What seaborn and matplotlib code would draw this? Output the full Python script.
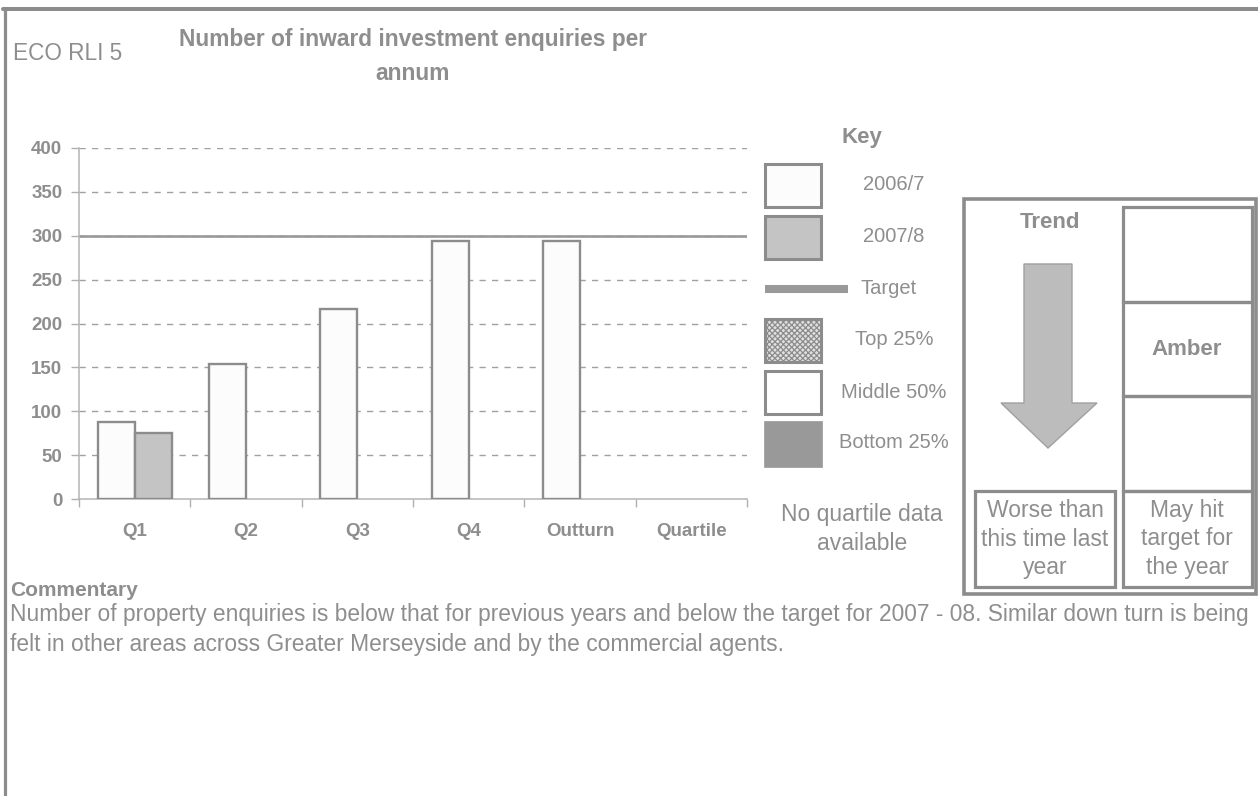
import numpy as np
import pandas as pd
import matplotlib
matplotlib.use("Agg")
import matplotlib.pyplot as plt
from matplotlib.patches import Rectangle, Polygon
from matplotlib.lines import Line2D
import seaborn as sns

# ---- data -------------------------------------------------------------
periods = ["Q1", "Q2", "Q3", "Q4", "Outturn", "Quartile"]
years = ["2006/7", "2007/8"]
enquiries_2006_7 = [88, 154, 217, 294, 294, None]
enquiries_2007_8 = [75, None, None, None, None, None]
target = 300
y_ticks = [0, 50, 100, 150, 200, 250, 300, 350, 400]

key_labels = ["2006/7", "2007/8", "Target", "Top 25%", "Middle 50%", "Bottom 25%"]
code_label = "ECO RLI 5"
title_lines = ["Number of inward investment enquiries per", "annum"]
quartile_note = "No quartile data\navailable"
trend_title = "Trend"
trend_text = "Worse than\nthis time last\nyear"
rag_status = "Amber"
rag_text = "May hit\ntarget for\nthe year"
commentary_head = "Commentary"
commentary_lines = [
    "Number of property enquiries is below that for previous years and below the "
    "target for 2007 - 08. Similar down turn is being",
    "felt in other areas across Greater Merseyside and by the commercial agents.",
]

rows = []
for p, a, b in zip(periods, enquiries_2006_7, enquiries_2007_8):
    if a is not None:
        rows.append({"period": p, "year": years[0], "enquiries": a})
    if b is not None:
        rows.append({"period": p, "year": years[1], "enquiries": b})
df = pd.DataFrame(rows)

# ---- style ------------------------------------------------------------
sns.set_style("white")
plt.rcParams["font.family"] = ["Liberation Sans", "DejaVu Sans"]
plt.rcParams["hatch.linewidth"] = 0.9

GREY = "#8c8c8c"
TXT = "#8e8e8e"
W, H = 1258, 796
fig = plt.figure(figsize=(W / 100, H / 100), dpi=100)
fig.patch.set_facecolor("white")


def fx(x):
    return x / W


def fy(y):
    return 1 - y / H


def box(x0, y0, x1, y1, **kw):
    r = Rectangle((fx(x0), fy(y1)), (x1 - x0) / W, (y1 - y0) / H,
                  transform=fig.transFigure, **kw)
    fig.add_artist(r)
    return r


def label(x, y, s, **kw):
    kw.setdefault("color", TXT)
    kw.setdefault("va", "center")
    return fig.text(fx(x), fy(y), s, **kw)


# ---- bar chart ----------------------------------------------------------
ax = fig.add_axes([fx(79), fy(499), (747 - 79) / W, (499 - 148) / H])
sns.barplot(data=df, x="period", y="enquiries", hue="year",
            order=periods, hue_order=years,
            palette={years[0]: "#fcfcfc", years[1]: "#c4c4c4"},
            width=2 / 3, edgecolor=GREY, linewidth=1.7,
            errorbar=None, legend=False, ax=ax, zorder=3)

ax.set_xlim(-0.5, len(periods) - 0.5)
ax.set_ylim(0, 400)
ax.set_xlabel("")
ax.set_ylabel("")

ax.set_yticks(y_ticks)
ax.set_yticklabels([str(v) for v in y_ticks], fontweight="bold",
                   fontsize=13.5, color=TXT)
ax.tick_params(axis="y", length=6, width=1, color="#b0b0b0", pad=6,
               left=True)

ax.set_xticks(np.arange(-0.5, len(periods), 1))
ax.set_xticklabels([])
ax.set_xticks(np.arange(len(periods)), minor=True)
ax.set_xticklabels(periods, minor=True, fontweight="bold", fontsize=13.5,
                   color=TXT)
ax.tick_params(axis="x", which="major", length=6, width=1, color="#b0b0b0",
               bottom=True)
ax.tick_params(axis="x", which="minor", length=0, pad=17)

for v in y_ticks[1:]:
    ax.axhline(v, color="#a0a0a0", lw=1, ls=(0, (4.5, 4.5)), zorder=1)
ax.axhline(target, color="#999999", lw=1.9, zorder=2)

for s in ["top", "right"]:
    ax.spines[s].set_visible(False)
for s in ["left", "bottom"]:
    ax.spines[s].set_color("#b4b4b4")
    ax.spines[s].set_linewidth(1.1)

# ---- page frame and headings ------------------------------------------
fig.add_artist(Line2D([fx(3), fx(W)], [fy(9), fy(9)], color=GREY, lw=2.9,
                      transform=fig.transFigure))
fig.add_artist(Line2D([fx(4.5), fx(4.5)], [fy(8), fy(H)], color=GREY, lw=2.3,
                      transform=fig.transFigure))

label(13, 53, code_label, fontsize=16.3, ha="left")
label(413, 46, title_lines[0], fontsize=16.4, fontweight="bold", ha="center",
      va="baseline")
label(413, 80, title_lines[1], fontsize=16.4, fontweight="bold", ha="center",
      va="baseline")

# ---- key ----------------------------------------------------------------
label(862, 137, "Key", fontsize=16, fontweight="bold", ha="center")
box(765, 164, 821, 207, facecolor="#fcfcfc", edgecolor=GREY, lw=2.2)
box(765, 216, 821, 259, facecolor="#c4c4c4", edgecolor=GREY, lw=2.2)
fig.add_artist(Line2D([fx(765), fx(848)], [fy(289), fy(289)], color="#999999",
                      lw=5.8, solid_capstyle="butt",
                      transform=fig.transFigure))
box(765, 319, 821, 362, facecolor="#e0e0e0", edgecolor=GREY, lw=2.2,
    hatch="xxxxxx")
box(765, 371, 821, 414, facecolor="white", edgecolor=GREY, lw=2.2)
box(764, 421, 822, 467, facecolor="#999999", edgecolor="#999999", lw=0.5)

key_pos = [(894, 185, "center"), (894, 237, "center"), (861, 289, "left"),
           (894, 340, "center"), (894, 392, "center"), (894, 443, "center")]
for (x, y, ha), s in zip(key_pos, key_labels):
    label(x, y, s, fontsize=14.5, ha=ha)

label(862, 529, quartile_note, fontsize=16.5, ha="center", linespacing=1.36)

# ---- trend / status panel ---------------------------------------------
box(964, 199, 1256, 594, facecolor="none", edgecolor=GREY, lw=2.6)
label(1050, 223, trend_title, fontsize=16, fontweight="bold", ha="center")

arrow_px = [(1024, 264), (1072, 264), (1072, 403), (1097, 403),
            (1048, 448), (1001, 403), (1024, 403)]
fig.add_artist(Polygon([(fx(x), fy(y)) for x, y in arrow_px], closed=True,
                       facecolor="#bcbcbc", edgecolor="#a0a0a0", lw=1,
                       transform=fig.transFigure))

for y0, y1 in [(207, 302), (302, 396), (396, 491), (491, 587)]:
    box(1123, y0, 1252, y1, facecolor="none", edgecolor=GREY, lw=2.3)
box(975, 491, 1115, 587, facecolor="none", edgecolor=GREY, lw=2.3)

label(1187, 350, rag_status, fontsize=16, fontweight="bold", ha="center")
label(1045, 539, trend_text, fontsize=16.5, ha="center", linespacing=1.3)
label(1187, 539, rag_text, fontsize=16.5, ha="center", linespacing=1.3)

# ---- commentary -------------------------------------------------------
label(10, 590, commentary_head, fontsize=15, fontweight="bold", ha="left")
label(10, 615, commentary_lines[0], fontsize=16.4, ha="left")
label(10, 644, commentary_lines[1], fontsize=16.4, ha="left")

fig.savefig("out.png", dpi=100, facecolor="white")
